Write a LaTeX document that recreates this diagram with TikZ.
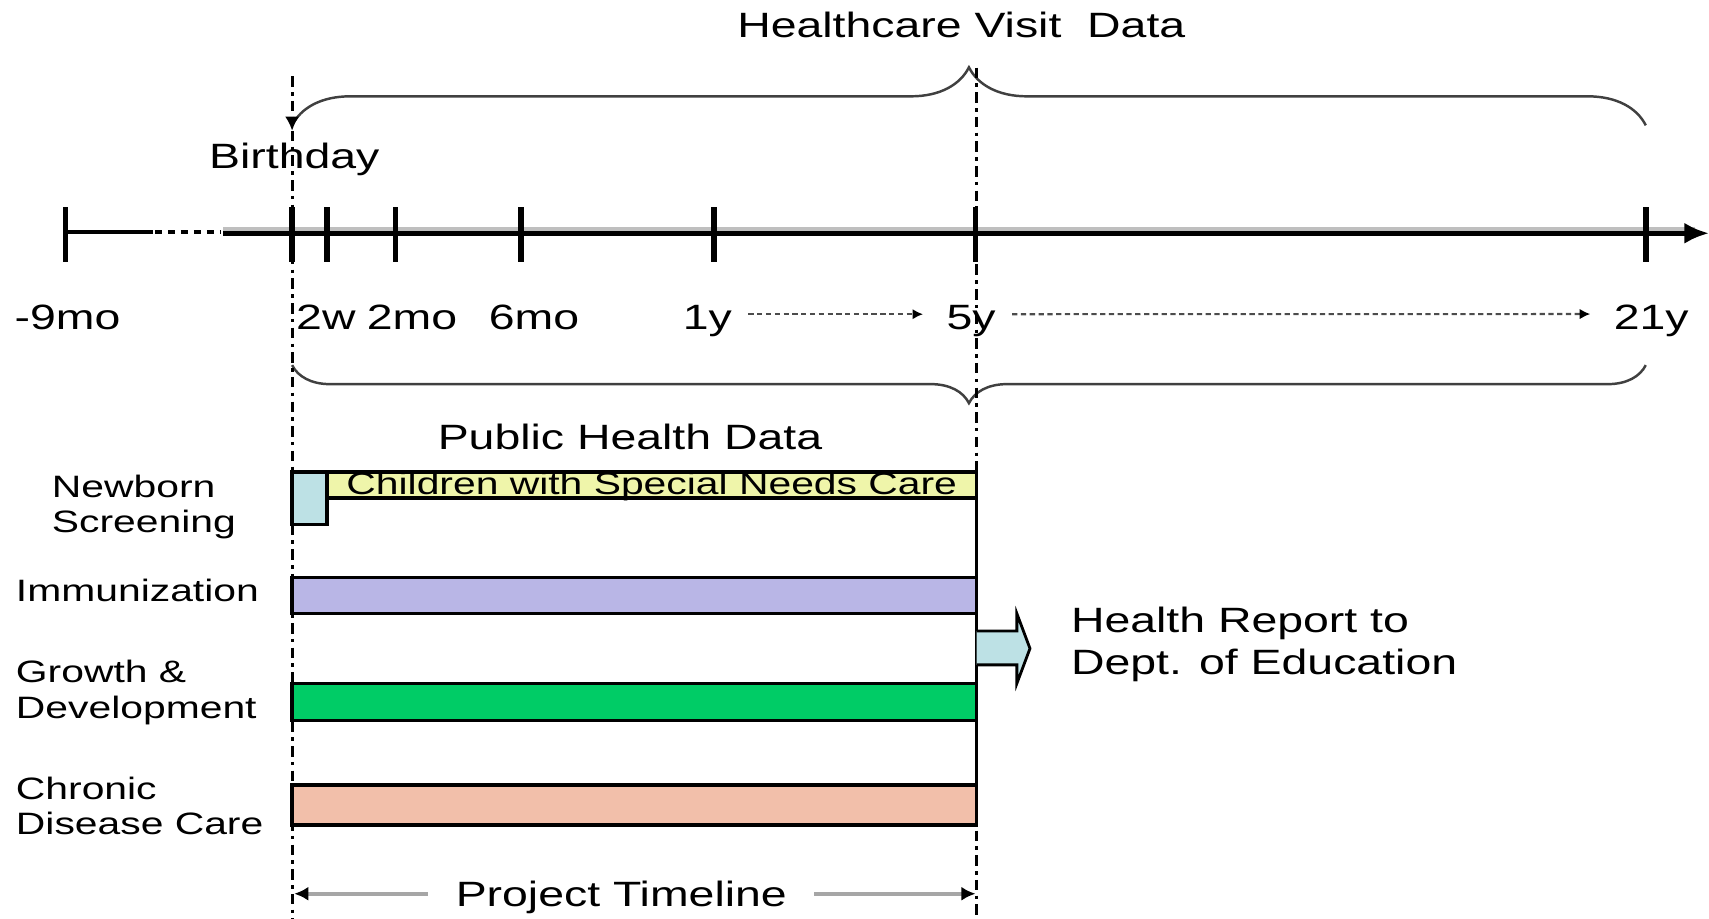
\documentclass[tikz,border=0pt]{standalone}
\usepackage{fontspec}
\setmainfont{Liberation Sans}[FakeStretch=1.32]
\usetikzlibrary{arrows.meta,decorations.pathreplacing}

\definecolor{nbblue}{HTML}{BDE1E5}
\definecolor{cshyellow}{HTML}{EFF5AA}
\definecolor{immpurple}{HTML}{B9B6E6}
\definecolor{grgreen}{HTML}{00CC66}
\definecolor{cdsalmon}{HTML}{F2BFAA}

\tikzset{
  lbl/.style={inner sep=0pt, anchor=base},
  sidelbl/.style={font=\fontsize{8.8}{10.2}\selectfont, align=left, anchor=base west, inner sep=0pt},
  bar/.style={draw, line width=1pt},
  vline/.style={line width=0.9pt, dash pattern=on 3pt off 1.5pt on 1pt off 1.5pt},
  tickmark/.style={line width=1.6pt},
  curly/.style={decorate, decoration={brace, amplitude=#1}, line width=0.7pt, black!75},
  dotarrow/.style={black!70, line width=0.6pt, dash pattern=on 1.5pt off 1pt, -{Latex[length=3pt,width=3pt,color=black]}, shorten <=4.5pt, shorten >=6.5pt},
  ptarrow/.style={black!35, line width=1.2pt, -{Latex[length=4pt,width=4pt,color=black]}}
}

\begin{document}
\begin{tikzpicture}[x=0.0109cm, y=-0.0109cm]
\useasboundingbox (0,0) rectangle (1568,843);

% braces
\node (hvd)[lbl] at (882,34) {Healthcare Visit\ \ Data};
\draw[curly=0.58cm] (268,115) -- (1510,115);
\draw[curly=0.38cm] (1510,335) -- (268,335);
\node (phd)[lbl] at (578,412) {Public Health Data};

% time axis
\draw[line width=1.3pt] (60,213) -- (140,213);
\draw[line width=1.3pt, dash pattern=on 2pt off 1.7pt] (142,213) -- (203,213);
\draw[black!25, line width=1pt] (205,210) -- (1555,210);
\draw[line width=1.3pt, -{Latex[length=7pt,width=6pt]}] (205,214) -- (1568,214);
\foreach \x in {60,268,300,363,478,655,895,1510}
{
	\draw[tickmark] (\x,190) -- (\x,240);
}
\foreach \x/\xtext/\xname in {62/-9mo/t9mo,299/2w/t2w,378/2mo/t2mo,490/6mo/t6mo,649/1y/t1y,891/5y/t5y,1515/21y/t21y}
{
	\node (\xname)[lbl] at (\x,302) {\xtext};
}
\draw[dotarrow] ([yshift=0.065cm]t1y.east) -- ([yshift=0.065cm]t5y.west);
\draw[dotarrow] ([yshift=0.065cm]t5y.east) -- ([yshift=0.065cm]t21y.west);

% birthday and 5y markers
\node (bday)[lbl] at (270,155) {Birthday};
\draw[vline, -{Latex[length=4pt,width=4pt]}] (268,70) -- (268,120);
\draw[vline] (268,120) -- (268,843);
\draw[vline] (896,62) -- (896,843);

% public health programmes
\draw[bar, fill=nbblue] (268,433) rectangle (300,481);
\draw[bar, fill=cshyellow] (300,433) rectangle (896,457);
\node (csn)[font=\fontsize{8.8}{10}\selectfont, inner sep=0pt] at (598,446) {Children with Special Needs Care};
\foreach \ytop/\ybot/\col in {530/563/immpurple,627/661/grgreen,720/757/cdsalmon}
{
	\draw[bar, fill=\col] (268,\ytop) rectangle (896,\ybot);
}
\draw[line width=1pt] (896,433) -- (896,757);

\node (nbs)[sidelbl] at (47,489) {Newborn\\Screening};
\node (imm)[sidelbl] at (14,552) {Immunization};
\node (grd)[sidelbl] at (14,659) {Growth \&\\Development};
\node (cdc)[sidelbl] at (14,766) {Chronic\\Disease Care};

% report arrow
\draw[line width=0.8pt, fill=nbblue] (896,579) -- (933,579) -- (933,563) -- (945,595) -- (933,627) -- (933,610) -- (896,610);
\node (hrep)[lbl, align=left, anchor=base west] at (982,619) {Health Report to\\Dept. of Education};

% project timeline
\node (ptl)[lbl, inner xsep=0.27cm] at (570,832) {Project Timeline};
\coordinate (ptlL) at (270,820);
\coordinate (ptlR) at (895,820);
\draw[ptarrow] (ptl.west |- ptlL) -- (ptlL);
\draw[ptarrow] (ptl.east |- ptlR) -- (ptlR);
\end{tikzpicture}
\end{document}
